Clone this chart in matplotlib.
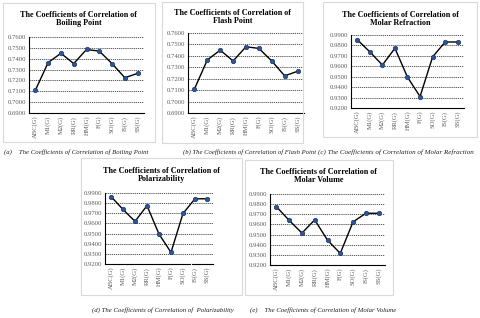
import matplotlib
matplotlib.use("Agg")
import matplotlib.pyplot as plt
from matplotlib.patches import Rectangle

W, H = 480, 318

cats = ["ABC(G)", "M1(G)", "M2(G)", "RR(G)", "HM(G)", "F(G)", "SO(G)", "IS(G)", "SS(G)"]

boiling = [0.7110, 0.7365, 0.7450, 0.7355, 0.7485, 0.7470, 0.7355, 0.7225, 0.7265]
flash = [0.7110, 0.7365, 0.7450, 0.7355, 0.7480, 0.7465, 0.7355, 0.7225, 0.7265]
refraction = [0.9855, 0.9738, 0.9612, 0.9773, 0.9495, 0.9310, 0.9690, 0.9833, 0.9833]
polar = [0.9865, 0.9738, 0.9620, 0.9775, 0.9495, 0.9315, 0.9698, 0.9843, 0.9843]
volume = [0.9775, 0.9640, 0.9515, 0.9645, 0.9445, 0.9315, 0.9625, 0.9710, 0.9710]

ticks_low = [0.69, 0.70, 0.71, 0.72, 0.73, 0.74, 0.75, 0.76]
ticks_high = [0.92, 0.93, 0.94, 0.95, 0.96, 0.97, 0.98, 0.99]

titles = ["The Coefficients of Correlation of\nBoiling Point",
          "The Coefficients of Correlation of\nFlash Point",
          "The Coefficients of Correlation of\nMolar Refraction",
          "The Coefficients of Correlation of\nPolarizability",
          "The Coefficients of Correlation of\nMolar Volume"]
captions = ["(a)    The Coefficients of Correlation of Boiling Point",
            "(b) The Coefficients of Correlation of Flash Point",
            "(c) The Coefficients of Correlation of Molar Refraction",
            "(d) The Coefficients of Correlation of  Polarizability",
            "(e)    The Coefficients of Correlation of Molar Volume"]

plt.rcParams['font.family'] = ['Liberation Serif', 'DejaVu Serif']

fig = plt.figure(figsize=(4.8, 3.18), dpi=100)


def fx(x):
    return x / W


def fy(y):
    return 1 - y / H


# pixel boxes: (frame x0, y0, x1, y1), (axes x0, ytop, x1, ybottom), title y, caption (x, y, ha, size)
panels = [
    ((3, 3, 155, 142), (29, 37, 144, 113), 19, (4, 152, 'left', 4.9)),
    ((162, 2, 303, 143), (188, 33, 304, 113), 17, (183, 152, 'left', 4.8)),
    ((323, 2, 477, 137), (351, 35, 464, 108), 19, (318, 152, 'left', 5.0)),
    ((81, 158, 242, 295), (105, 193, 213, 264), 175, (163, 310, 'center', 4.9)),
    ((245, 160, 393, 295), (270, 194, 385, 265), 176, (250, 310, 'left', 4.9)),
]
series = [boiling, flash, refraction, polar, volume]
yticks = [ticks_low, ticks_low, ticks_high, ticks_high, ticks_high]

for i, (frame, ax_px, ty, cap) in enumerate(panels):
    x0, y0, x1, y1 = frame
    fig.patches.append(Rectangle((fx(x0), fy(y1)), fx(x1 - x0), (y1 - y0) / H,
                                 transform=fig.transFigure, fill=False,
                                 edgecolor='#d9d9d9', linewidth=0.8))
    ax0, at, ax1, ab = ax_px
    ax = fig.add_axes([fx(ax0), fy(ab), fx(ax1 - ax0), (ab - at) / H])
    tk = yticks[i]
    ax.plot(range(len(cats)), series[i], color='black', linewidth=1.0,
            marker='o', markersize=3.2, markerfacecolor='#2e5597',
            markeredgecolor='#1f3864', markeredgewidth=0.5, zorder=3)
    ax.set_ylim(tk[0], tk[-1])
    ax.set_yticks(tk)
    ax.set_yticklabels(["%.4f" % t for t in tk])
    ax.set_xlim(-0.5, len(cats) - 0.5)
    ax.set_xticks(range(len(cats)))
    ax.set_xticklabels(cats, rotation=90)
    ax.tick_params(axis='both', length=0, labelsize=4.8, colors='#595959', pad=2)
    ax.yaxis.grid(True, linestyle=(0, (1.5, 1)), color='#404040', linewidth=0.6)
    ax.set_axisbelow(True)
    for s in ['top', 'right']:
        ax.spines[s].set_visible(False)
    ax.spines['left'].set_linewidth(0.8)
    ax.spines['bottom'].set_linewidth(0.8)
    if i == 3:
        # l'axe du bas est coupé entre SO et IS dans l'original
        ax.spines['bottom'].set_visible(False)
        ax.axhline(tk[0], xmin=0, xmax=0.785, color='black', linewidth=0.8, clip_on=False)
        ax.axhline(tk[0], xmin=0.81, xmax=1, color='black', linewidth=0.8, clip_on=False)
    fig.text(fx((x0 + x1) / 2), fy(ty), titles[i], ha='center', va='center',
             fontsize=5.9, fontweight='bold', linespacing=1.1)
    cx, cy, ha, cs = cap
    fig.text(fx(cx), fy(cy), captions[i], ha=ha, va='center', fontsize=cs,
             style='italic', color='#222222')

fig.savefig("out.png", dpi=100)
